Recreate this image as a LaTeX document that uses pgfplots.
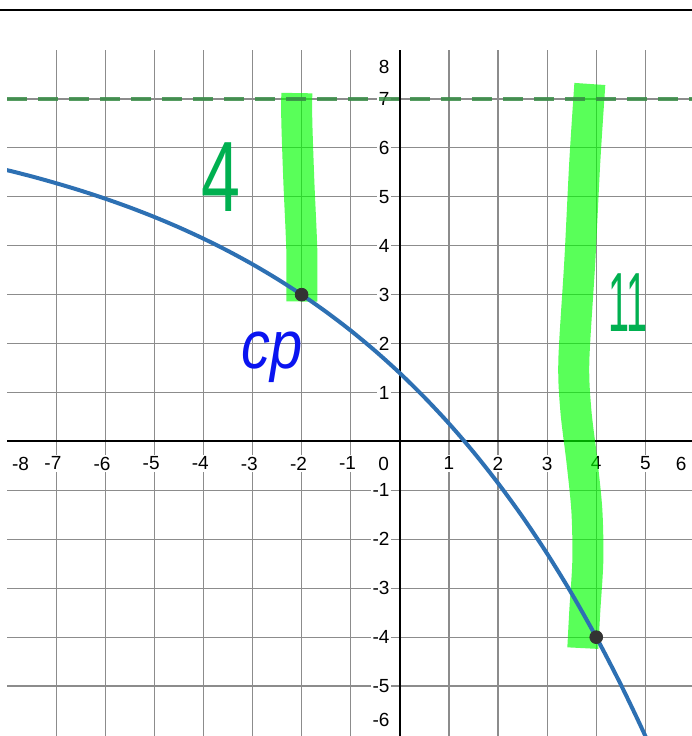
\documentclass[border=0pt]{standalone}
\usepackage{pgfplots}
\pgfplotsset{compat=1.18}
\usepackage{graphicx}
\usepackage{fontspec}
\setmainfont{Liberation Sans}
\definecolor{dblue}{HTML}{2D70B3}
\definecolor{dgreen}{HTML}{388C46}
\definecolor{hlgreen}{HTML}{00FF00}
\definecolor{penGreen}{HTML}{00B050}
\definecolor{penBlue}{HTML}{0A14F0}
\newcommand{\lbl}{\fontsize{9.5}{11}\selectfont}

\begin{document}
\begin{tikzpicture}
\begin{axis}[
    scale only axis,
    width=342.5pt, height=343pt,
    xmin=-8, xmax=5.95,
    ymin=-6.02, ymax=8,
    axis lines=middle,
    inner axis line style={-, black, line width=1pt},
    xtick={-7,-6,-5,-4,-3,-2,-1,1,2,3,4,5},
    xticklabels={\llap{-}7,\llap{-}6,\llap{-}5,\llap{-}4,\llap{-}3,\llap{-}2,\llap{-}1,1,2,3,4,5},
    ytick={-5,-4,-3,-2,-1,1,2,3,4,5,6,7},
    yticklabels={-5,-4,-3,-2,-1,1,2,3,4,5,6,7},
    major tick length=0pt,
    grid=major,
    grid style={black!45, line width=0.6pt},
    xticklabel style={anchor=north, fill=white, inner sep=1pt, yshift=-6.5pt, font=\lbl},
    yticklabel style={anchor=east, fill=white, inner sep=1pt, xshift=-4pt, font=\lbl},
    clip=true,
]
% highlighter strokes
\addplot[smooth, hlgreen, opacity=0.65, line width=15.5pt, line cap=butt] coordinates {
    (-2.098,7.12) (-2.098,6.55) (-2.057,5.33) (-1.996,3.90) (-1.996,2.86)};
\addplot[smooth, hlgreen, opacity=0.65, line width=15.5pt, line cap=butt] coordinates {
    (3.870,7.306) (3.768,5.735) (3.666,3.694) (3.544,1.653) (3.585,0.633)
    (3.707,-0.388) (3.809,-1.408) (3.829,-2.429) (3.768,-3.449) (3.727,-4.224)};

% asymptote y = 7
\addplot[dgreen, opacity=0.85, line width=2.2pt, dash pattern=on 10pt off 5.5pt] coordinates {(-8,7) (5.95,7)};

% curve
\addplot[smooth, dblue, line width=2pt] coordinates {
    (-8.5,5.663) (-8,5.545) (-7.5,5.418) (-7,5.278) (-6.5,5.127) (-6,4.962)
    (-5.5,4.783) (-5,4.588) (-4.5,4.376) (-4,4.145) (-3.5,3.894) (-3,3.621)
    (-2.5,3.323) (-2,3) (-1.5,2.648) (-1,2.266) (-0.5,1.849) (0,1.396)
    (0.5,0.903) (1,0.367) (1.5,-0.217) (2,-0.852) (2.5,-1.542) (3,-2.293)
    (3.5,-3.110) (4,-4) (4.5,-4.968) (5,-6.020) (5.5,-7.165)};

% points
\addplot[only marks, mark=*, mark size=3.2pt, black!80] coordinates {(-2,3) (4,-4)};

% edge labels
\node[font=\lbl, fill=white, inner sep=1pt, anchor=north, yshift=-6.5pt] at (axis cs:-7.66,0) {\llap{-}8};
\node[font=\lbl, fill=white, inner sep=1pt, anchor=north, yshift=-6.5pt] at (axis cs:5.73,0) {6};
\node[font=\lbl, fill=white, inner sep=1pt, anchor=north, yshift=-6.5pt] at (axis cs:-0.33,0) {0};
\node[font=\lbl, fill=white, inner sep=1pt, anchor=east, xshift=-4pt] at (axis cs:0,7.65) {8};
\node[font=\lbl, fill=white, inner sep=1pt, anchor=east, xshift=-4pt] at (axis cs:0,-5.69) {-6};

% handwritten notes
\node[penGreen, font=\fontsize{50}{50}\selectfont] at (axis cs:-3.646,5.41) {\scalebox{0.7}[1]{4}};
\node[penGreen, font=\fontsize{42}{42}\selectfont] at (axis cs:4.644,2.837) {\scalebox{0.45}[1]{11}};
\node[penBlue, font=\fontsize{34}{34}\selectfont\itshape] at (axis cs:-2.607,1.72) {\scalebox{0.85}[1]{cp}};
\end{axis}
\draw[black, line width=1.3pt] (-3.5pt,363pt) -- (342.5pt,363pt);
\pgfresetboundingbox
\useasboundingbox (-3.5pt,0pt) rectangle (342.5pt,368pt);
\end{tikzpicture}
\end{document}
